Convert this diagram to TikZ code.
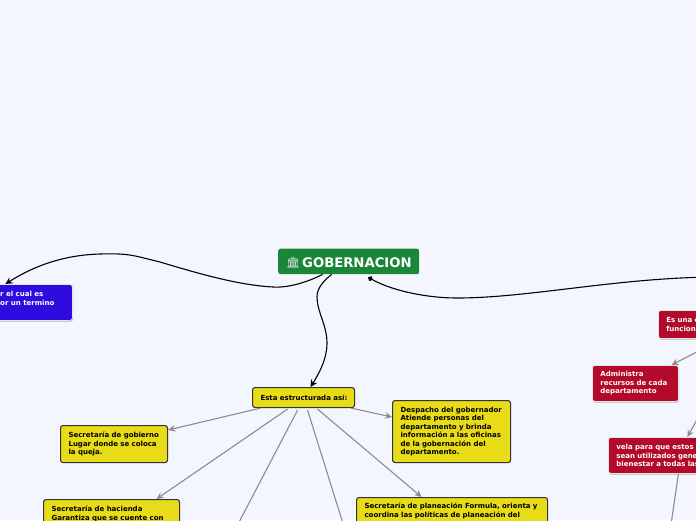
\documentclass[tikz,border=0pt]{standalone}
\usepackage{fontspec}
\setmainfont{DejaVu Sans}
\newfontfamily\emojifont{Noto Emoji}
\usetikzlibrary{arrows.meta}
\definecolor{pagebg}{HTML}{F3F6FF}
\definecolor{rootgreen}{HTML}{1A8638}
\definecolor{boxyellow}{HTML}{E8DC18}
\definecolor{boxred}{HTML}{B30A2C}
\definecolor{boxblue}{HTML}{2F0BE0}
\definecolor{linegrey}{HTML}{8C8C8C}
\newcommand{\tl}[1]{\leavevmode\hbox to 0pt{#1\hss}}
\tikzset{
  x=1pt,y=-1pt,
  basebox/.style={anchor=north west,rounded corners=2.5pt,align=left,inner xsep=8pt,inner ysep=0pt,
    font=\bfseries\fontsize{7.0}{8.5}\selectfont},
  yellowbox/.style={basebox,fill=boxyellow,draw=black!80,line width=1.1pt,text=black},
  redbox/.style={basebox,fill=boxred,draw=white!80!gray,line width=0.8pt,text=white},
  bluebox/.style={basebox,fill=boxblue,draw=white!80!gray,line width=0.8pt,text=white},
  rootbox/.style={anchor=north west,rounded corners=2.5pt,fill=rootgreen,inner sep=0pt},
  curvelink/.style={black,line width=1.1pt,-{Stealth[length=7pt,width=7pt]}},
  greylink/.style={linegrey,line width=1.1pt,-{Stealth[length=7pt,width=6.5pt]}},
}
\begin{document}
\begin{tikzpicture}
\useasboundingbox (0,0) rectangle (696,520);
\clip (0,0) rectangle (696,520);
\fill[pagebg] (0,0) rectangle (696,520);
% shadows
\fill[black!30,rounded corners=2.5pt] (-20,286) rectangle (73,321.5);
\fill[black!30,rounded corners=2.5pt] (659,312) rectangle (760,339.5);
\fill[black!30,rounded corners=2.5pt] (593,367) rectangle (679,402.5);
\fill[black!30,rounded corners=2.5pt] (609,439) rectangle (760,474.5);
% nodes
\node[rootbox,minimum width=141pt,minimum height=25.5pt] (root) at (278,248.5) {};
\node[anchor=base west,inner sep=0pt,text=white!82!gray,font=\emojifont\fontsize{11}{11}\selectfont] (icon) at (286,266.5) {🏛};
\node[anchor=base west,inner sep=0pt,text=white,font=\bfseries\fontsize{13.2}{13.2}\selectfont] (title) at (302,267) {GOBERNACION};
\node[bluebox,minimum width=92pt,minimum height=36pt,inner xsep=0pt] (blue) at (-20,284) {};
\node[anchor=base west,inner sep=0pt,text=white,font=\bfseries\fontsize{7.0}{8.5}\selectfont] (bluetxta) at (0,296) {r el cual es};
\node[anchor=base west,inner sep=0pt,text=white,font=\bfseries\fontsize{7.0}{8.5}\selectfont] (bluetxtb) at (0,305) {or un termino};
\node[yellowbox,minimum width=102pt,minimum height=20pt,text width=86pt] (esta) at (252,387) {\tl{Esta estructurada así:}};
\node[yellowbox,minimum width=107pt,minimum height=37pt,text width=91pt] (gob) at (60,425) {\tl{Secretaría de gobierno}\\\tl{Lugar donde se coloca}\\\tl{la queja.}};
\node[yellowbox,minimum width=136pt,minimum height=60pt,text width=120pt] (hac) at (43,499) {\tl{Secretaría de hacienda}\\\tl{Garantiza que se cuente con}\\[24pt]\mbox{}};
\node[yellowbox,minimum width=118pt,minimum height=62pt,text width=102pt] (desp) at (392,400) {\tl{Despacho del gobernador}\\\tl{Atiende personas del}\\\tl{departamento y brinda}\\\tl{información a las oficinas}\\\tl{de la gobernación del}\\\tl{departamento.}};
\node[yellowbox,minimum width=191pt,minimum height=60pt,text width=175pt] (plan) at (356,497) {\tl{Secretaría de planeación Formula, orienta y}\\\tl{coordina las políticas de planeación del}\\[26pt]\mbox{}};
\node[redbox,minimum width=100pt,minimum height=28pt,text width=84pt] (red) at (658,310) {\tl{Es una e}\\\tl{funcione}};
\node[redbox,minimum width=86pt,minimum height=36pt,text width=70pt] (adm) at (592,365) {\tl{Administra}\\\tl{recursos de cada}\\\tl{departamento}};
\node[redbox,minimum width=150pt,minimum height=36pt,text width=134pt] (vela) at (608,437) {\tl{vela para que estos r}\\\tl{sean utilizados gene}\\\tl{bienestar a todas las}};
% free ends
\coordinate (offa) at (225,549);
\coordinate (offb) at (351,549);
\coordinate (offc) at (720,277);
\coordinate (offd) at (668,545);
\coordinate (offe) at (720,340);
\coordinate (offf) at (705,405);
% connectors
\draw[curvelink] ([xshift=-26pt]root.south) .. controls +(-16,8) and +(15,1) .. (273,287) .. controls +(-35,-2) and +(40,12) .. (160,262) .. controls +(-25,-6) and +(30,-1) .. (100,254) .. controls +(-35,1) and +(30,-19) .. ([xshift=-21pt]blue.north);
\draw[curvelink] ([xshift=-17pt]root.south) .. controls (322,282) and (317,289) .. (317,297) .. controls (317,312) and (327,325) .. (327,343) .. controls (327,360) and (318,375) .. ([xshift=7pt]esta.north);
\draw[black,line width=1.1pt,{Circle[length=5pt,width=5pt]}-] ([xshift=19.5pt,yshift=-3pt]root.south) .. controls (395,292) and (430,298) .. (457,298) .. controls (530,298) and (620,277) .. (offc);
\draw[greylink] ([xshift=-43pt]esta.south) -- ([yshift=-5pt]gob.north east);
\draw[greylink] ([xshift=-16pt,yshift=-1pt]esta.south) -- ([xshift=45pt]hac.north);
\draw[linegrey,line width=1.1pt] ([xshift=-6pt,yshift=-2pt]esta.south) -- (offa);
\draw[linegrey,line width=1.1pt] ([xshift=4pt,yshift=-2pt]esta.south) -- (offb);
\draw[greylink] ([xshift=14pt,yshift=-1pt]esta.south) -- ([xshift=-30.5pt]plan.north);
\draw[greylink] ([xshift=-4pt]esta.south east) -- ([yshift=-17pt]desp.north west);
\draw[greylink] (offe) -- ([xshift=36pt]adm.north);
\draw[greylink] (offf) -- ([xshift=4pt]vela.north);
\draw[linegrey,line width=1.1pt] ([xshift=-5pt]vela.south) -- (offd);
\end{tikzpicture}
\end{document}
